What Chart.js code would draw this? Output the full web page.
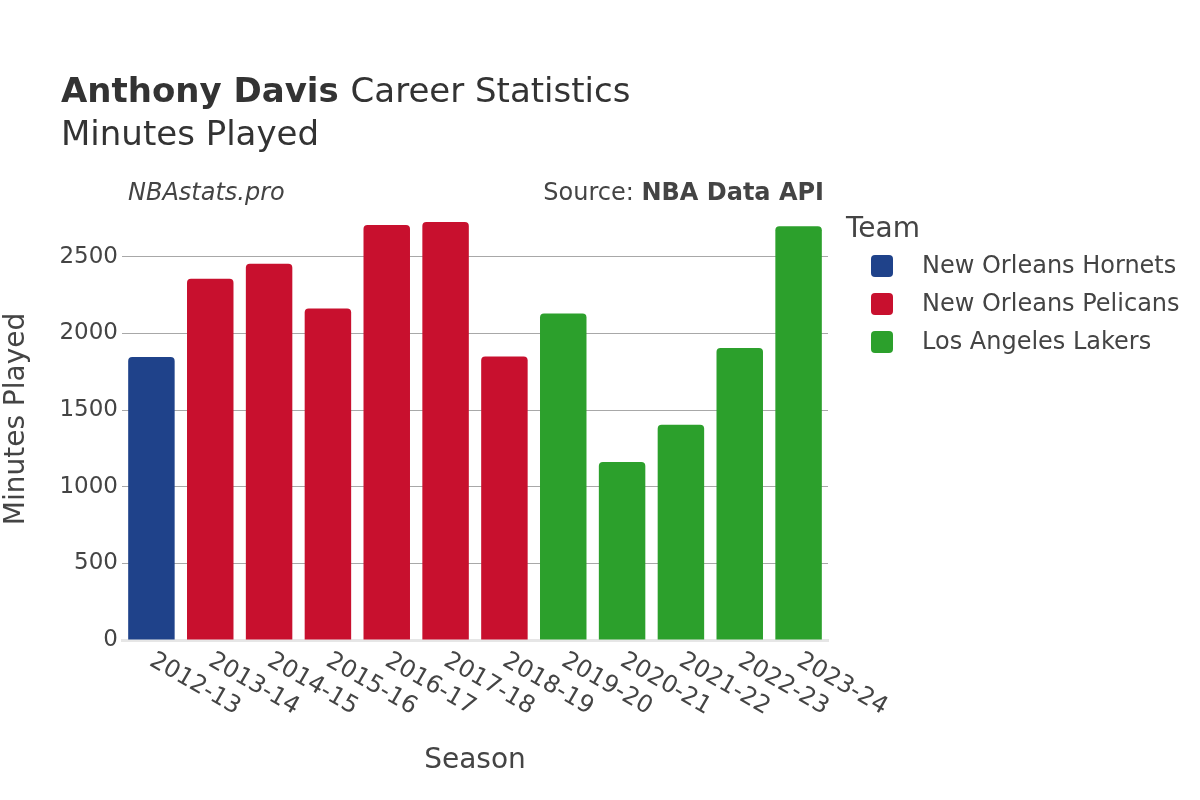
<!DOCTYPE html>
<html>
<head>
<meta charset="utf-8">
<script src="https://cdn.jsdelivr.net/npm/chart.js@4.4.1/dist/chart.umd.min.js"></script>
<style>
  html, body { margin: 0; padding: 0; background: #fff; }
  #wrap { position: relative; width: 1200px; height: 800px; }
</style>
</head>
<body>
<div id="wrap"><canvas id="c" width="1200" height="800"></canvas></div>
<script>
const seasons = ["2012-13","2013-14","2014-15","2015-16","2016-17","2017-18","2018-19","2019-20","2020-21","2021-22","2022-23","2023-24"];
const teams = ["New Orleans Hornets","New Orleans Pelicans","Los Angeles Lakers"];
const teamColors = ["#1f428a","#c8102e","#2ca02c"];
const seasonTeam = [0,1,1,1,1,1,1,2,2,2,2,2];
const minutes = [1846,2358,2455,2164,2708,2727,1850,2131,1162,1404,1905,2700];
const yTicks = [0,500,1000,1500,2000,2500];

const FONT = "'DejaVu Sans', sans-serif";
const TXT = "#444";

const datasets = teams.map((t, ti) => ({
  label: t,
  data: minutes.map((m, i) => seasonTeam[i] === ti ? m : null),
  backgroundColor: teamColors[ti],
  borderRadius: { topLeft: 4, topRight: 4, bottomLeft: 0, bottomRight: 0 },
  borderSkipped: false,
  barPercentage: 0.79,
  categoryPercentage: 1.0
}));

function rrect(ctx, x, y, w, h, r) {
  ctx.beginPath();
  ctx.moveTo(x + r, y);
  ctx.lineTo(x + w - r, y);
  ctx.quadraticCurveTo(x + w, y, x + w, y + r);
  ctx.lineTo(x + w, y + h - r);
  ctx.quadraticCurveTo(x + w, y + h, x + w - r, y + h);
  ctx.lineTo(x + r, y + h);
  ctx.quadraticCurveTo(x, y + h, x, y + h - r);
  ctx.lineTo(x, y + r);
  ctx.quadraticCurveTo(x, y, x + r, y);
  ctx.closePath();
}

const overlay = {
  id: 'overlay',
  afterDraw(chart) {
    const ctx = chart.ctx;
    const xs = chart.scales.x;
    ctx.save();
    ctx.fillStyle = "#333";
    ctx.textAlign = 'left';
    ctx.textBaseline = 'alphabetic';
    ctx.font = "bold 34px " + FONT;
    const t1 = "Anthony Davis";
    ctx.fillText(t1, 61, 102);
    const w1 = ctx.measureText(t1 + " ").width;
    ctx.font = "34px " + FONT;
    ctx.fillText("Career Statistics", 61 + w1, 102);
    ctx.fillText("Minutes Played", 61, 145);

    ctx.fillStyle = TXT;
    ctx.font = "italic 24px " + FONT;
    ctx.fillText("NBAstats.pro", 128, 200);
    ctx.textAlign = 'right';
    ctx.font = "bold 24px " + FONT;
    const src = "NBA Data API";
    ctx.fillText(src, 824, 200);
    const ws = ctx.measureText(src).width;
    ctx.font = "24px " + FONT;
    ctx.fillText("Source: ", 824 - ws, 200);

    // legend
    ctx.textAlign = 'left';
    ctx.font = "28px " + FONT;
    ctx.fillText("Team", 846, 237);
    ctx.font = "24px " + FONT;
    const ly = [266, 304, 342];
    teams.forEach((t, i) => {
      ctx.fillStyle = teamColors[i];
      rrect(ctx, 871, ly[i] - 11, 22, 22, 4);
      ctx.fill();
      ctx.fillStyle = TXT;
      ctx.textBaseline = 'middle';
      ctx.fillText(t, 922, ly[i] + 1);
    });

    // x tick labels rotated
    ctx.font = "24px " + FONT;
    ctx.fillStyle = TXT;
    ctx.textAlign = 'left';
    ctx.textBaseline = 'middle';
    seasons.forEach((s, i) => {
      const x = xs.getPixelForValue(i);
      ctx.save();
      ctx.translate(x, 659);
      ctx.rotate(Math.PI / 6);
      ctx.fillText(s, 0, 0);
      ctx.restore();
    });

    // axis titles
    ctx.font = "28px " + FONT;
    ctx.textAlign = 'center';
    ctx.textBaseline = 'middle';
    ctx.fillText("Season", 475, 761);
    ctx.save();
    ctx.translate(17, 419);
    ctx.rotate(-Math.PI / 2);
    ctx.fillText("Minutes Played", 0, 0);
    ctx.restore();
    ctx.restore();
  }
};

new Chart(document.getElementById('c'), {
  type: 'bar',
  data: { labels: seasons, datasets },
  plugins: [overlay],
  options: {
    responsive: false,
    animation: false,
    layout: { padding: { top: 214, right: 372, left: 0, bottom: 0 } },
    plugins: { legend: { display: false }, tooltip: { enabled: false }, title: { display: false } },
    scales: {
      x: {
        stacked: true,
        grid: { display: false },
        border: { display: true, color: '#e6e6e6', width: 3 },
        ticks: { display: false },
        afterFit(scale) { scale.height = 160; }
      },
      y: {
        stacked: true,
        min: 0,
        max: 2780,
        afterBuildTicks(scale) { scale.ticks = yTicks.map(v => ({ value: v })); },
        grid: { color: '#a8a8a8', lineWidth: 1, tickLength: 0, drawTicks: false },
        border: { display: false },
        ticks: { color: TXT, font: { family: FONT, size: 23 }, padding: 4, callback: v => String(v) },
        afterFit(scale) { scale.width = 122; }
      }
    }
  }
});
</script>
</body>
</html>
